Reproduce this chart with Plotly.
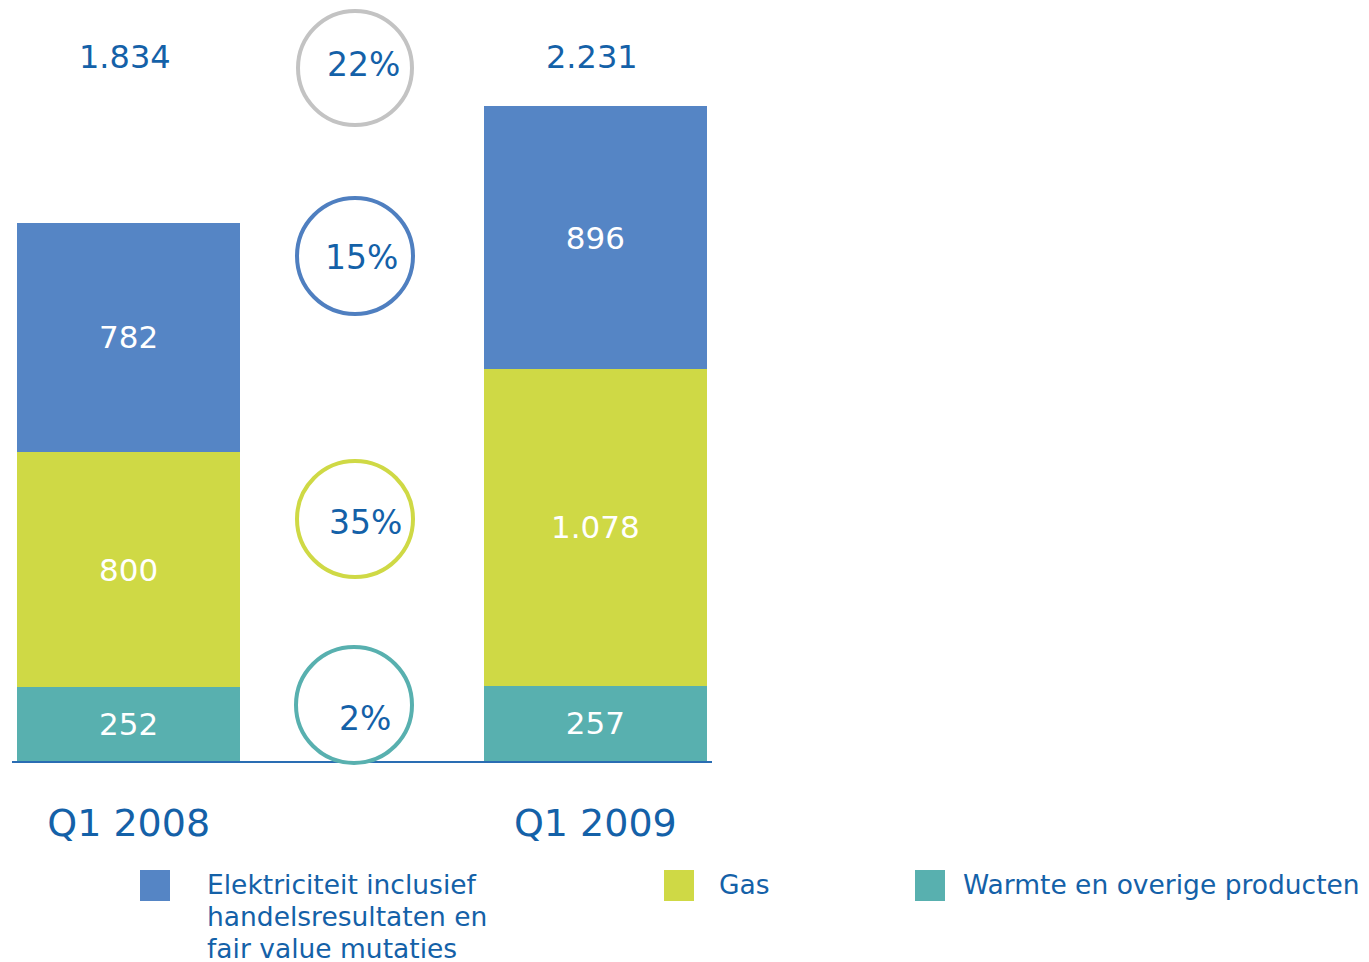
import plotly.graph_objects as go

categories = ["Q1 2008", "Q1 2009"]
x_pos = [0, 1]
warmte = [252, 257]
gas = [800, 1078]
elektriciteit = [782, 896]
totals = ["1.834", "2.231"]
growth = ["22%", "15%", "35%", "2%"]
legend_names = [["Elektriciteit inclusief", "handelsresultaten en", "fair value mutaties"],
                ["Gas"], ["Warmte en overige producten"]]

W, H = 1369, 962
OFF = 8  # page offset of the figure
C_BLUE = "#5585c5"
C_YEL = "#cfd945"
C_TEAL = "#58b0af"
C_TXT = "#1461a8"
FONT = "DejaVu Sans"

def px(x):
    return (x - OFF) / W

def py(y):
    return 1 - (y - OFF) / H

def fmt(v):
    return f"{v:,}".replace(",", ".")

fig = go.Figure()
for vals, col in [(warmte, C_TEAL), (gas, C_YEL), (elektriciteit, C_BLUE)]:
    fig.add_trace(go.Bar(
        x=x_pos, y=vals, marker=dict(color=col, line=dict(width=0)),
        width=0.4775, text=[fmt(v) for v in vals], textposition="inside",
        insidetextanchor="middle", textangle=0,
        textfont=dict(color="white", size=31, family=FONT),
        hoverinfo="skip", showlegend=False))

x0_px, x1_px = 12, 712
base_px = 761
scale = 0.2935  # px per unit

fig.update_layout(
    width=W, height=H, barmode="stack",
    margin=dict(l=0, r=0, t=0, b=0),
    paper_bgcolor="white", plot_bgcolor="white",
    font=dict(family=FONT, color=C_TXT),
    xaxis=dict(domain=[px(x0_px), px(x1_px)], range=[-0.25, 1.25],
               tickvals=x_pos, ticktext=categories, showgrid=False, zeroline=False,
               showline=True, linecolor="#2a6db3", linewidth=2,
               ticks="", tickfont=dict(size=38, color=C_TXT, family=FONT),
               ticklabelstandoff=27),
    yaxis=dict(domain=[py(base_px), 1], range=[0, (base_px - OFF) / scale],
               visible=False, showgrid=False, zeroline=False),
)

# totals above bars
for t, tx in zip(totals, [125, 592]):
    fig.add_annotation(x=px(tx), y=py(57), xref="paper", yref="paper",
                       text=t, showarrow=False, font=dict(size=32, color=C_TXT, family=FONT),
                       xanchor="center", yanchor="middle")

# growth circles
circ_cols = ["#c3c3c3", "#4f7fc0", "#cfd945", "#58b0af"]
circ_c = [(355, 68), (355, 256), (355, 519), (354, 705)]
circ_r = [57, 58, 58, 58]
txt_c = [(363, 65), (361, 257), (365, 522), (365, 718)]
for g, col, (cx, cy), r, (tx, ty) in zip(growth, circ_cols, circ_c, circ_r, txt_c):
    fig.add_shape(type="circle", xref="paper", yref="paper",
                  x0=px(cx - r), x1=px(cx + r), y0=py(cy + r), y1=py(cy - r),
                  line=dict(color=col, width=4), fillcolor="rgba(0,0,0,0)", layer="above")
    fig.add_annotation(x=px(tx), y=py(ty), xref="paper", yref="paper",
                       text=g, showarrow=False, font=dict(size=33, color=C_TXT, family=FONT),
                       xanchor="center", yanchor="middle")

# custom legend
leg_sq = [140, 664, 915]
leg_tx = [205, 717, 961]
for lines, col, sx, tx in zip(legend_names, [C_BLUE, C_YEL, C_TEAL], leg_sq, leg_tx):
    fig.add_shape(type="rect", xref="paper", yref="paper",
                  x0=px(sx), x1=px(sx + 30), y0=py(901), y1=py(870),
                  line=dict(width=0), fillcolor=col)
    for i, line in enumerate(lines):
        fig.add_annotation(x=px(tx), y=py(884 + 32 * i), xref="paper", yref="paper",
                           text=line, showarrow=False, align="left",
                           font=dict(size=26.5, color=C_TXT, family=FONT),
                           xanchor="left", yanchor="middle")

fig.write_html("out.html")
